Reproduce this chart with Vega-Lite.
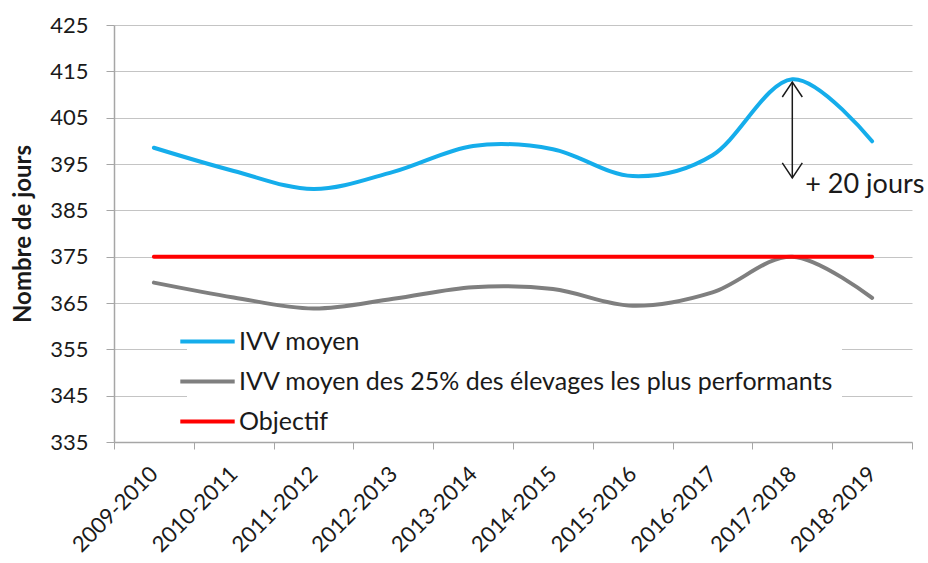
{
  "$schema": "https://vega.github.io/schema/vega-lite/v6.json",
  "width": 798,
  "height": 417,
  "autosize": {"type": "none"},
  "padding": {"left": 114, "top": 25, "right": 16, "bottom": 121},
  "background": "white",
  "config": {
    "font": "Lato",
    "view": {"stroke": null},
    "axis": {
      "labelFont": "Lato",
      "labelFontSize": 22,
      "labelColor": "#1a1a1a",
      "titleFont": "Lato",
      "domainColor": "#a6a6a6",
      "tickColor": "#a6a6a6",
      "gridColor": "#c4c4c4"
    }
  },
  "datasets": {
    "series": [
      {"annee": "2009-2010", "serie": "IVV moyen", "valeur": 398.5},
      {"annee": "2010-2011", "serie": "IVV moyen", "valeur": 393.5},
      {"annee": "2011-2012", "serie": "IVV moyen", "valeur": 389.6},
      {"annee": "2012-2013", "serie": "IVV moyen", "valeur": 393.3},
      {"annee": "2013-2014", "serie": "IVV moyen", "valeur": 398.9},
      {"annee": "2014-2015", "serie": "IVV moyen", "valeur": 398.2},
      {"annee": "2015-2016", "serie": "IVV moyen", "valeur": 392.4},
      {"annee": "2016-2017", "serie": "IVV moyen", "valeur": 396.9},
      {"annee": "2017-2018", "serie": "IVV moyen", "valeur": 413.3},
      {"annee": "2018-2019", "serie": "IVV moyen", "valeur": 399.9},
      {"annee": "2009-2010", "serie": "IVV moyen des 25% des élevages les plus performants", "valeur": 369.4},
      {"annee": "2010-2011", "serie": "IVV moyen des 25% des élevages les plus performants", "valeur": 366.2},
      {"annee": "2011-2012", "serie": "IVV moyen des 25% des élevages les plus performants", "valeur": 363.8},
      {"annee": "2012-2013", "serie": "IVV moyen des 25% des élevages les plus performants", "valeur": 365.9},
      {"annee": "2013-2014", "serie": "IVV moyen des 25% des élevages les plus performants", "valeur": 368.4},
      {"annee": "2014-2015", "serie": "IVV moyen des 25% des élevages les plus performants", "valeur": 368.0},
      {"annee": "2015-2016", "serie": "IVV moyen des 25% des élevages les plus performants", "valeur": 364.4},
      {"annee": "2016-2017", "serie": "IVV moyen des 25% des élevages les plus performants", "valeur": 367.3},
      {"annee": "2017-2018", "serie": "IVV moyen des 25% des élevages les plus performants", "valeur": 375.0},
      {"annee": "2018-2019", "serie": "IVV moyen des 25% des élevages les plus performants", "valeur": 366.1},
      {"annee": "2009-2010", "serie": "Objectif", "valeur": 375},
      {"annee": "2010-2011", "serie": "Objectif", "valeur": 375},
      {"annee": "2011-2012", "serie": "Objectif", "valeur": 375},
      {"annee": "2012-2013", "serie": "Objectif", "valeur": 375},
      {"annee": "2013-2014", "serie": "Objectif", "valeur": 375},
      {"annee": "2014-2015", "serie": "Objectif", "valeur": 375},
      {"annee": "2015-2016", "serie": "Objectif", "valeur": 375},
      {"annee": "2016-2017", "serie": "Objectif", "valeur": 375},
      {"annee": "2017-2018", "serie": "Objectif", "valeur": 375},
      {"annee": "2018-2019", "serie": "Objectif", "valeur": 375}
    ],
    "fleche": [
      {"annee": "2017-2018", "haut": 412.7, "bas": 392.0, "texte": "+ 20 jours", "ytexte": 390.4}
    ]
  },
  "layer": [
    {
      "data": {"name": "series"},
      "mark": {"type": "line", "interpolate": "cardinal", "strokeWidth": 4, "strokeCap": "round"},
      "encoding": {
        "x": {
          "field": "annee",
          "type": "nominal",
          "bandPosition": 0.5,
          "scale": {"type": "band", "paddingInner": 0, "paddingOuter": 0},
          "axis": {
            "title": null,
            "labelAngle": -45,
            "labelAlign": "right",
            "labelBaseline": "middle",
            "labelPadding": 21,
            "labelOverlap": false,
            "tickBand": "extent",
            "tickSize": 7,
            "grid": false,
            "domainWidth": 1.5,
            "zindex": 2
          }
        },
        "y": {
          "field": "valeur",
          "type": "quantitative",
          "scale": {"domain": [335, 425], "nice": false, "zero": false},
          "axis": {
            "values": [335, 345, 355, 365, 375, 385, 395, 405, 415, 425],
            "title": "Nombre de jours",
            "titleFontSize": 24,
            "titleFontWeight": "bold",
            "titleColor": "#1a1a1a",
            "titlePadding": 14,
            "tickSize": 8,
            "labelPadding": 18,
            "grid": true,
            "domainWidth": 1.5
          }
        },
        "color": {
          "field": "serie",
          "type": "nominal",
          "scale": {
            "domain": ["IVV moyen", "IVV moyen des 25% des élevages les plus performants", "Objectif"],
            "range": ["#15ADEB", "#7F7F7F", "#FF0000"]
          },
          "legend": {
            "title": null,
            "orient": "none",
            "legendX": 73,
            "legendY": 296,
            "fillColor": "white",
            "padding": 8,
            "symbolType": "M-3.4,0H3.4",
            "symbolSize": 256,
            "symbolStrokeWidth": 4,
            "rowPadding": 14,
            "labelFontSize": 25,
            "labelColor": "#1a1a1a",
            "labelOffset": 19,
            "labelLimit": 800,
            "zindex": 1
          }
        }
      }
    },
    {
      "data": {"name": "fleche"},
      "mark": {"type": "rule", "color": "#1a1a1a", "strokeWidth": 1.5},
      "encoding": {
        "x": {"field": "annee", "type": "nominal", "bandPosition": 0.5},
        "y": {"field": "haut", "type": "quantitative"},
        "y2": {"field": "bas"}
      }
    },
    {
      "data": {"name": "fleche"},
      "mark": {"type": "point", "shape": "M-1,1.5L0,0L1,1.5", "size": 400, "filled": false, "color": "#1a1a1a", "strokeWidth": 1.5, "opacity": 1},
      "encoding": {
        "x": {"field": "annee", "type": "nominal", "bandPosition": 0.5},
        "y": {"field": "haut", "type": "quantitative"}
      }
    },
    {
      "data": {"name": "fleche"},
      "mark": {"type": "point", "shape": "M-1,-1.5L0,0L1,-1.5", "size": 400, "filled": false, "color": "#1a1a1a", "strokeWidth": 1.5, "opacity": 1},
      "encoding": {
        "x": {"field": "annee", "type": "nominal", "bandPosition": 0.5},
        "y": {"field": "bas", "type": "quantitative"}
      }
    },
    {
      "data": {"name": "fleche"},
      "mark": {"type": "text", "align": "left", "baseline": "middle", "dx": 13, "fontSize": 27, "color": "#1a1a1a", "font": "Lato"},
      "encoding": {
        "x": {"field": "annee", "type": "nominal", "bandPosition": 0.5},
        "y": {"field": "ytexte", "type": "quantitative"},
        "text": {"field": "texte"}
      }
    }
  ]
}
